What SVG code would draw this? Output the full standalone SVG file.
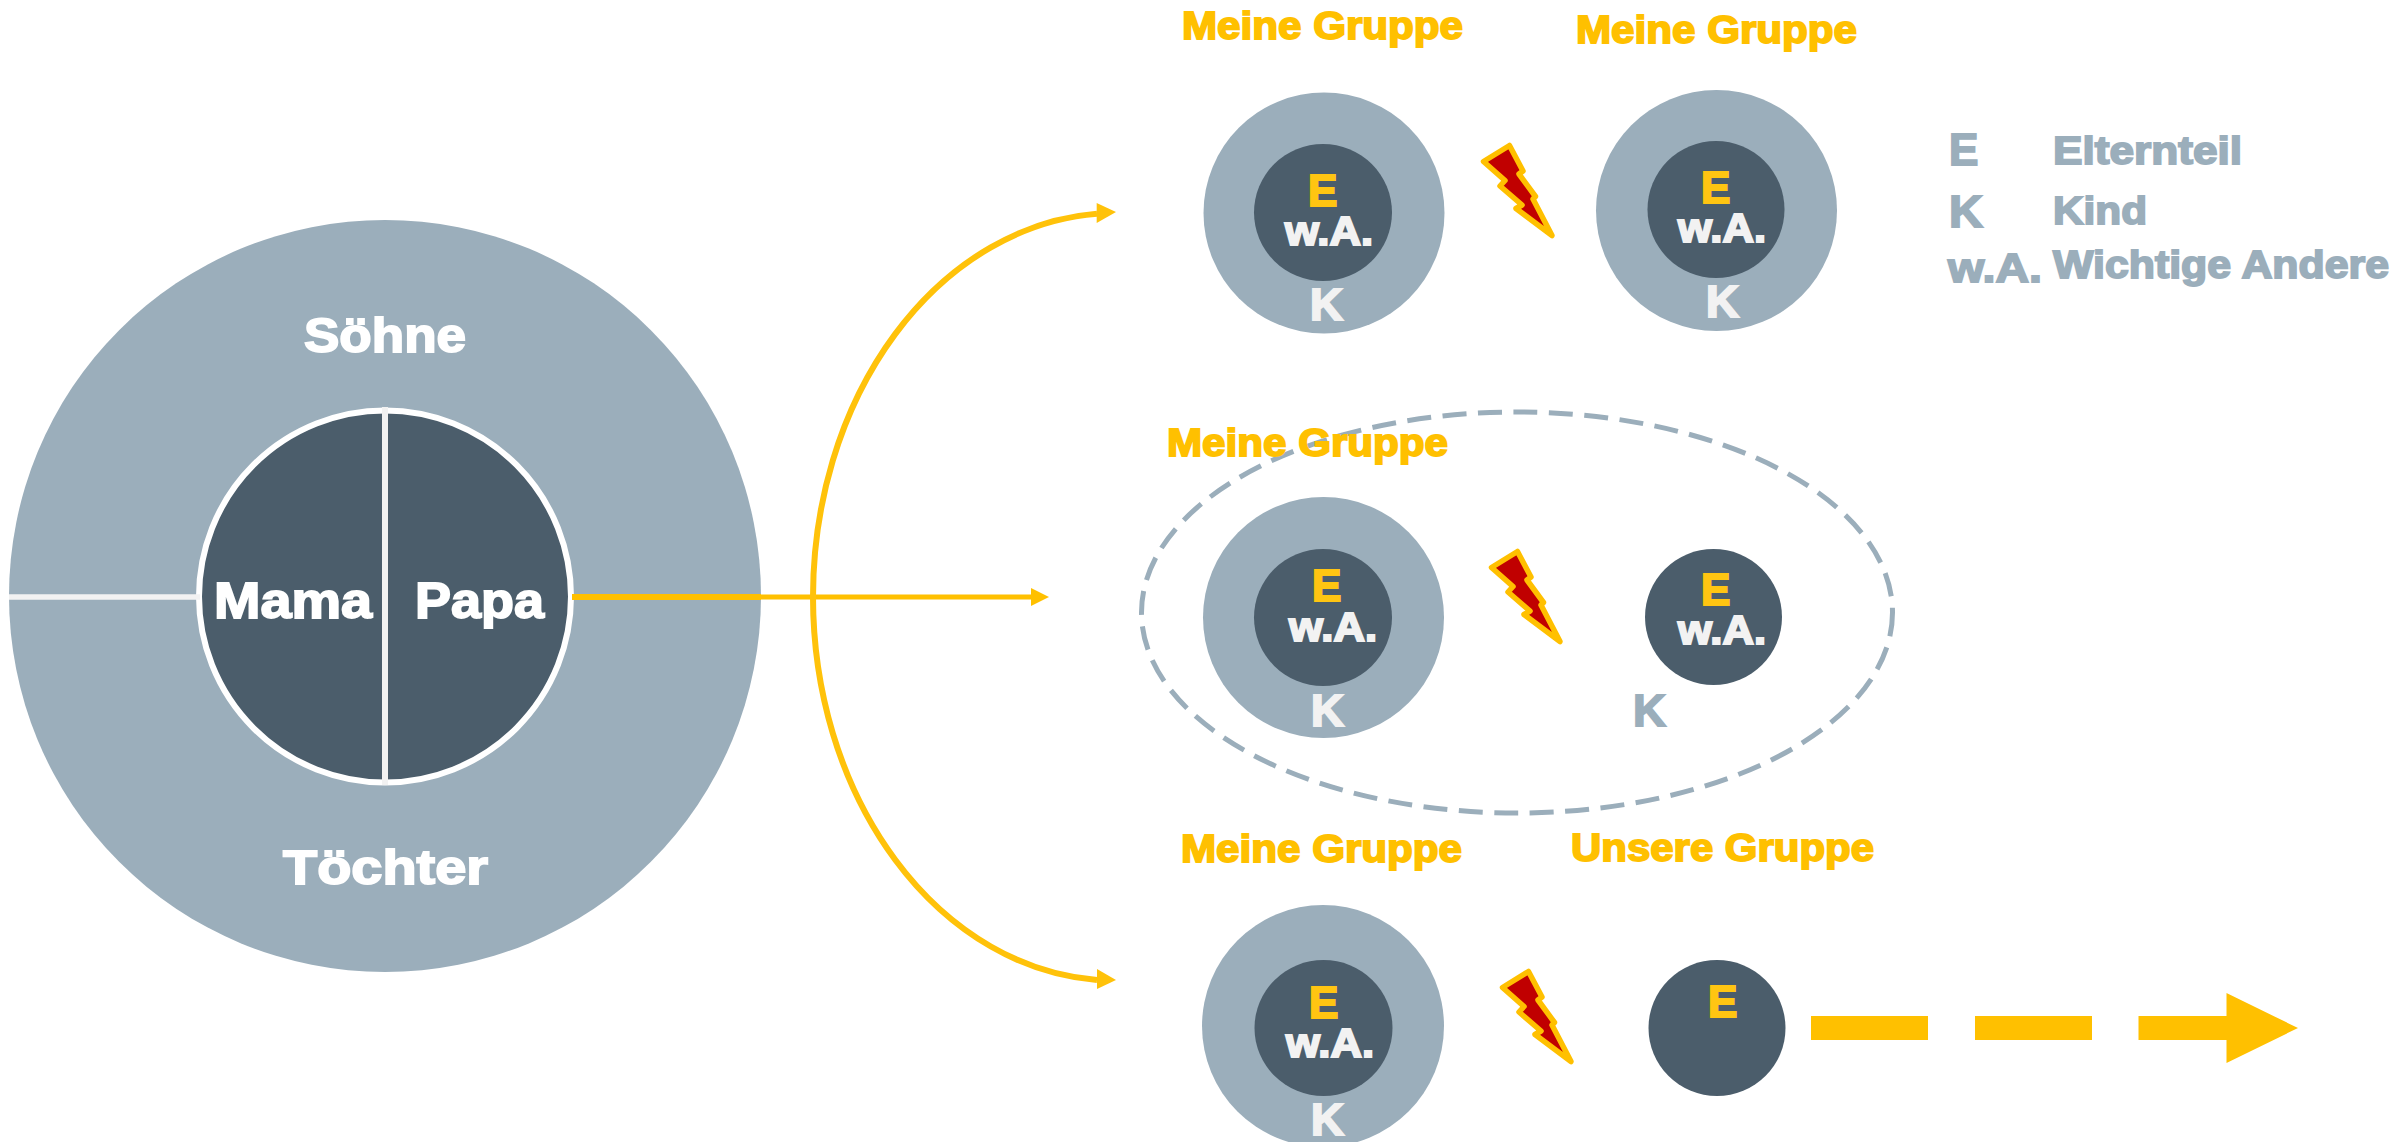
<svg xmlns="http://www.w3.org/2000/svg" width="2397" height="1142" viewBox="0 0 2397 1142">
<style>
text{font-family:"Liberation Sans",Arial,sans-serif;font-weight:bold}
.y{fill:#FFC000;stroke:#FFC000;stroke-width:1.8}
.e{fill:#FFC512;stroke:#FFC512;stroke-width:2;font-size:44px}
.w{fill:#FFFFFF;stroke:#FFFFFF;stroke-width:1.8}
.l{fill:#F2F2F2;stroke:#F2F2F2;stroke-width:2}
.g{fill:#9BAEBB;stroke:#9BAEBB;stroke-width:1.8}
.ga{font-size:38px}
.wa{font-size:40px}
.k{font-size:44px}
.outer{fill:#9BAEBB}
.inner{fill:#4B5D6B}
.conn{fill:none;stroke:#FFC20A;stroke-width:6}
</style>
<defs>
<marker id="headm" markerUnits="userSpaceOnUse" markerWidth="22" markerHeight="22" refX="0" refY="9" orient="auto" overflow="visible"><path d="M0,0 L18,9 L0,18 Z" fill="#FFC000"/></marker>
<path id="bolt" d="M1509.5,145.5 L1483.5,161.5 L1505,180.5 L1500,186 L1522,205 L1516,208.5 L1552,235.5 L1533,199 L1535.5,196.5 L1519,174 L1523,171 Z" fill="#C00000" stroke="#FFC000" stroke-width="5.5" stroke-linejoin="round"/>
</defs>
<rect width="2397" height="1142" fill="#FFFFFF"/>
<g id="family">
<circle cx="385" cy="596" r="376" class="outer"/>
<circle cx="385" cy="596.5" r="186" fill="#4B5D6B" stroke="#FFFFFF" stroke-width="6"/>
<line x1="385" y1="407" x2="385" y2="785" stroke="#F2F2F2" stroke-width="6"/>
<line x1="9" y1="597" x2="200" y2="597" stroke="#F2F2F2" stroke-width="5.5"/>
<text x="304" y="352" font-size="48" class="w" textLength="162" lengthAdjust="spacingAndGlyphs">Söhne</text>
<text x="283" y="884" font-size="48" class="w" textLength="205" lengthAdjust="spacingAndGlyphs">Töchter</text>
<text x="214" y="618" font-size="50" class="w" textLength="158" lengthAdjust="spacingAndGlyphs">Mama</text>
<text x="415" y="618" font-size="50" class="w" textLength="129" lengthAdjust="spacingAndGlyphs">Papa</text>
</g>
<g id="connectors">
<line x1="572" y1="597" x2="761" y2="597" stroke="#FFC000" stroke-width="6"/>
<line x1="761" y1="597" x2="1031" y2="597" stroke="#FFC000" stroke-width="5" marker-end="url(#headm)"/>
<path class="conn" d="M1097,213.8 A303,384 0 0 0 813,597"/>
<path class="conn" d="M813,597 A303,384 0 0 0 1097,980"/>
<path d="M1096.7,203 L1116,212 L1096.7,223 Z" fill="#FFC20A"/>
<path d="M1097,969 L1116,980 L1097,989 Z" fill="#FFC20A"/>
</g>
<g id="group-top-left">
<text x="1182" y="39" class="y ga" textLength="281" lengthAdjust="spacingAndGlyphs">Meine Gruppe</text>
<circle cx="1324" cy="213" r="120.5" class="outer"/>
<ellipse cx="1323" cy="212.5" rx="69" ry="68.5" class="inner"/>
<text x="1308" y="206" class="e">E</text>
<text x="1285" y="245" class="l wa" textLength="88" lengthAdjust="spacingAndGlyphs">w.A.</text>
<text x="1310" y="320" class="l k" textLength="33" lengthAdjust="spacingAndGlyphs">K</text>
</g>
<g id="group-top-right">
<text x="1576" y="43" class="y ga" textLength="281" lengthAdjust="spacingAndGlyphs">Meine Gruppe</text>
<ellipse cx="1716.5" cy="210.5" rx="120.5" ry="120.5" class="outer"/>
<ellipse cx="1716" cy="209.5" rx="68.5" ry="68.5" class="inner"/>
<text x="1701" y="203" class="e">E</text>
<text x="1678" y="242" class="l wa" textLength="88" lengthAdjust="spacingAndGlyphs">w.A.</text>
<text x="1706" y="317" class="l k" textLength="33" lengthAdjust="spacingAndGlyphs">K</text>
</g>
<use id="bolt-top" href="#bolt"/>
<g id="legend">
<text x="1949" y="165" font-size="44" class="g">E</text>
<text x="2053" y="164" font-size="39" class="g" textLength="189" lengthAdjust="spacingAndGlyphs">Elternteil</text>
<text x="1949" y="227" font-size="44" class="g" textLength="34" lengthAdjust="spacingAndGlyphs">K</text>
<text x="2053" y="224" font-size="39" class="g" textLength="94" lengthAdjust="spacingAndGlyphs">Kind</text>
<text x="1948" y="282" font-size="41" class="g" textLength="94" lengthAdjust="spacingAndGlyphs">w.A.</text>
<text x="2053" y="278" font-size="39" class="g" textLength="336" lengthAdjust="spacingAndGlyphs">Wichtige Andere</text>
</g>
<g id="group-middle">
<ellipse cx="1517" cy="612.5" rx="375.5" ry="200.5" fill="none" stroke="#9BAEBB" stroke-width="5" stroke-dasharray="24 11.5"/>
<text x="1167" y="456" class="y ga" textLength="281" lengthAdjust="spacingAndGlyphs">Meine Gruppe</text>
<ellipse cx="1323.5" cy="617.5" rx="120.5" ry="120.5" class="outer"/>
<ellipse cx="1323" cy="617.5" rx="69" ry="68.5" class="inner"/>
<text x="1312" y="601" class="e">E</text>
<text x="1289" y="641" class="l wa" textLength="88" lengthAdjust="spacingAndGlyphs">w.A.</text>
<text x="1311" y="726" class="l k" textLength="33" lengthAdjust="spacingAndGlyphs">K</text>
<ellipse cx="1713.5" cy="617" rx="68.5" ry="68" class="inner"/>
<text x="1701" y="605" class="e">E</text>
<text x="1678" y="644" class="l wa" textLength="88" lengthAdjust="spacingAndGlyphs">w.A.</text>
<text x="1633" y="726" class="g k" textLength="33" lengthAdjust="spacingAndGlyphs">K</text>
</g>
<use id="bolt-middle" href="#bolt" transform="translate(8,406)"/>
<g id="group-bottom">
<text x="1181" y="862" class="y ga" textLength="281" lengthAdjust="spacingAndGlyphs">Meine Gruppe</text>
<text x="1571" y="861" class="y ga" textLength="303" lengthAdjust="spacingAndGlyphs">Unsere Gruppe</text>
<ellipse cx="1323" cy="1026" rx="121" ry="121" class="outer"/>
<ellipse cx="1323.5" cy="1028" rx="69" ry="68" class="inner"/>
<text x="1309" y="1018" class="e">E</text>
<text x="1286" y="1057" class="l wa" textLength="88" lengthAdjust="spacingAndGlyphs">w.A.</text>
<text x="1311" y="1135" class="l k" textLength="33" lengthAdjust="spacingAndGlyphs">K</text>
<ellipse cx="1717" cy="1028" rx="68.5" ry="68" class="inner"/>
<text x="1708" y="1017" class="e">E</text>
</g>
<use id="bolt-bottom" href="#bolt" transform="translate(19,826)"/>
<g id="dashed-arrow" fill="#FFC000">
<rect x="1811" y="1016" width="117" height="24"/>
<rect x="1975" y="1016" width="117" height="24"/>
<path d="M2138.5,1016 H2226.5 V993 L2298,1028 L2226.5,1063 V1040 H2138.5 Z"/>
</g>
</svg>
